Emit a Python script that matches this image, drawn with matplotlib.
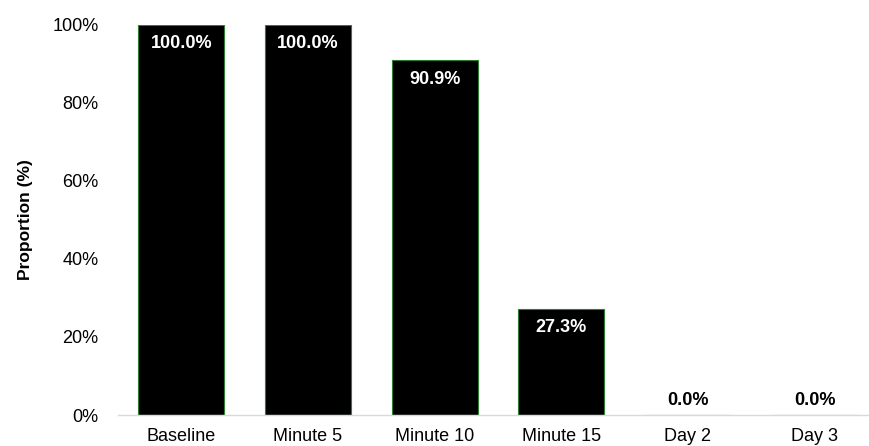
import matplotlib
matplotlib.use("Agg")
import matplotlib.pyplot as plt
from matplotlib.ticker import PercentFormatter

categories = ["Baseline", "Minute 5", "Minute 10", "Minute 15", "Day 2", "Day 3"]
proportions = [100.0, 100.0, 90.9, 27.3, 0.0, 0.0]
y_ticks = [0, 20, 40, 60, 80, 100]

plt.rcParams["font.family"] = ["Liberation Sans", "DejaVu Sans"]

fig = plt.figure(figsize=(8.70, 4.46), dpi=100)
ax = fig.add_axes([0.1356, 0.0695, 0.8644, 0.8745])

x = range(len(categories))
bars = ax.bar(x, proportions, width=0.68, color="black",
              edgecolor="#2f7d32", linewidth=0.8)

for xi, v in zip(x, proportions):
    if v > 10:
        ax.text(xi, v - 2.6, f"{v:.1f}%", ha="center", va="top",
                color="white", fontsize=13, fontweight="bold")
    else:
        ax.text(xi, v + 1.5, f"{v:.1f}%", ha="center", va="bottom",
                color="black", fontsize=13, fontweight="bold")

ax.set_xlim(-0.5, 5.437)
ax.set_ylim(0, 100)
ax.set_xticks(list(x))
ax.set_xticklabels(categories, fontsize=13)
ax.set_yticks(y_ticks)
ax.yaxis.set_major_formatter(PercentFormatter(decimals=0))
ax.tick_params(axis="y", labelsize=13, length=0, pad=14)
ax.tick_params(axis="x", length=0, pad=9.5)

for s in ("top", "right", "left"):
    ax.spines[s].set_visible(False)
ax.spines["bottom"].set_color("#d9d9d9")
ax.spines["bottom"].set_linewidth(1.0)

ax.set_ylabel("Proportion (%)", fontsize=12.5, fontweight="bold", labelpad=14)

fig.savefig("out.png", dpi=100)
